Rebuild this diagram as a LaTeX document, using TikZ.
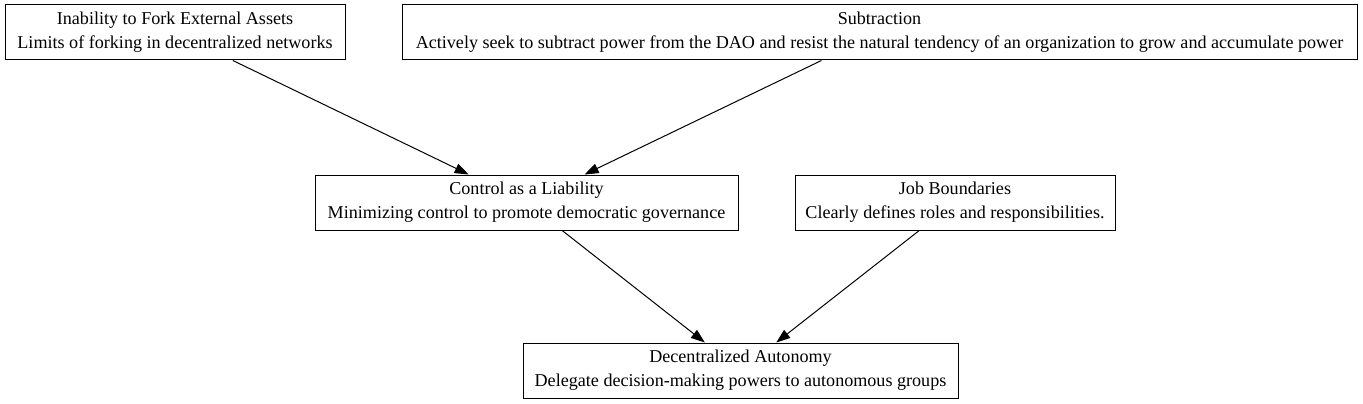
\documentclass[tikz,border=0pt]{standalone}
\usepackage{fontspec}
\setmainfont{Liberation Serif}
\usetikzlibrary{arrows.meta,positioning}

\begin{document}
\begin{tikzpicture}[x=1pt,y=-1pt,>={Triangle[length=14pt,width=10pt]},line width=1pt,
  box/.style={draw,rectangle,align=center,inner sep=0pt,minimum height=55pt,font=\fontsize{18.1}{24}\selectfont}]
  \useasboundingbox (0,0) rectangle (1363,404);
  \node[box,minimum width=340pt] (fork)     at (175,32.5)    {Inability to Fork External Assets\\Limits of forking in decentralized networks};
  \node[box,minimum width=955pt] (subtract) at (879.5,32.5)  {Subtraction\\Actively seek to subtract power from the DAO and resist the natural tendency of an organization to grow and accumulate power};
  \node[box,minimum width=423pt] (control)  at (526.5,202.5) {Control as a Liability\\Minimizing control to promote democratic governance};
  \node[box,minimum width=320pt] (job)      at (955,202.5)   {Job Boundaries\\Clearly defines roles and responsibilities.};
  \node[box,minimum width=435pt] (auto)     at (740.5,370.5) {Decentralized Autonomy\\Delegate decision-making powers to autonomous groups};

\path (fork)     edge [->] (control)
      (subtract) edge [->] (control)
      (control)  edge [->] (auto)
      (job)      edge [->] (auto);

\end{tikzpicture}
\end{document}
